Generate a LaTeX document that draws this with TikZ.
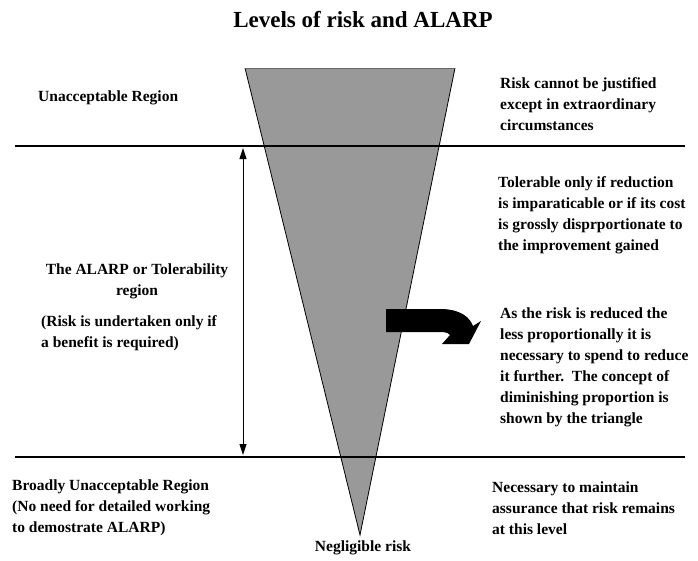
\documentclass[tikz,border=0pt]{standalone}
\usepackage{fontspec}
\setmainfont{Liberation Serif}
\usetikzlibrary{arrows.meta}
\begin{document}
\begin{tikzpicture}[x=1pt,y=-1pt,
  txt/.style={inner sep=0pt,font=\fontsize{15.5}{21}\selectfont\bfseries,align=left},
  ctxt/.style={txt,align=center},
  divider/.style={line width=1.3pt,black},
  gauge/.style={line width=0.9pt,{Triangle[length=11pt,width=7pt]}-{Triangle[length=11pt,width=7pt]}}]
\useasboundingbox (0,0) rectangle (698,560);

% risk triangle
\coordinate (tl) at (245,68);
\coordinate (tr) at (455,68);
\coordinate (apex) at (360,535);
\fill[black!40] (tl) -- (tr) -- (apex) -- cycle;
\draw[black,line width=0.8pt] (tr) -- (apex) -- (tl);
\draw[black!60,line width=1pt] (tl) -- (tr);

% region dividers
\coordinate (d1l) at (15,146);
\coordinate (d1r) at (685,146);
\coordinate (d2l) at (15,457);
\coordinate (d2r) at (685,457);
\draw[divider] (d1l) -- (d1r);
\draw[divider] (d2l) -- (d2r);

% extent of the tolerability region
\coordinate (gtop) at (243,148);
\coordinate (gbot) at (243,455);
\draw[gauge] (gtop) -- (gbot);

% bent arrow
\fill[black] (386,309) -- (443,309) .. controls (462,310) and (470,318) .. (473,326)
  -- (481,321) -- (469,344) -- (442,344) -- (450,335)
  .. controls (448,333) .. (443,332) -- (386,332) -- cycle;

% title
\node[inner sep=0pt,font=\fontsize{23}{26}\selectfont\bfseries] (title) at (363,20) {Levels of risk and ALARP};

% left column
\node[txt,anchor=west] (unacc) at (38,98) {Unacceptable Region};
\node[ctxt] (alarp) at (137,281) {The ALARP or Tolerability\\region};
\node[txt,anchor=west] (alarpnote) at (41,333) {(Risk is undertaken only if\\a benefit is required)};
\node[txt,anchor=west] (broad) at (12,487) {Broadly Unacceptable Region};
\node[txt,anchor=west] (broadnote) at (12,518) {(No need for detailed working\\to demostrate ALARP)};

% right column
\node[txt,anchor=west] (unaccnote) at (500,104) {Risk cannot be justified\\except in extraordinary\\circumstances};
\node[txt,anchor=west] (tolnote) at (498,215) {Tolerable only if reduction\\is imparaticable or if its cost\\is grossly disprportionate to\\the improvement gained};
\node[txt,anchor=west] (propnote) at (500,367) {As the risk is reduced the\\less proportionally it is\\necessary to spend to reduce\\it further.\ \ The concept of\\diminishing proportion is\\shown by the triangle};
\node[txt,anchor=west] (broadrnote) at (492,508) {Necessary to maintain\\assurance that risk remains\\at this level};

% bottom label
\node[txt] (neglig) at (363,548) {Negligible risk};
\end{tikzpicture}
\end{document}
